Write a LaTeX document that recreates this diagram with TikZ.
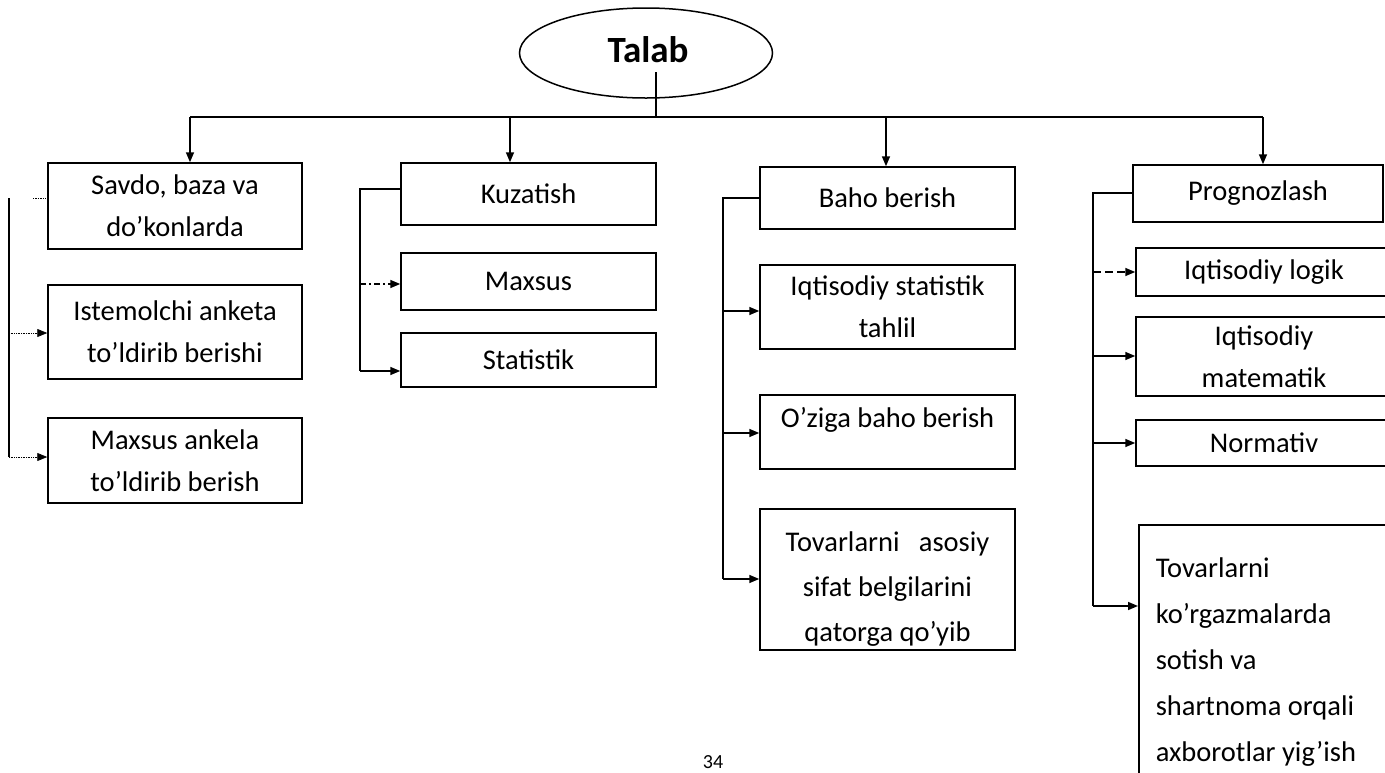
\documentclass[tikz,border=0pt]{standalone}
\usepackage{fontspec}
\setmainfont{Carlito}
\usetikzlibrary{shapes.geometric,arrows.meta}
\begin{document}
\begin{tikzpicture}[x=1pt,y=-1pt,
  box/.style={draw, line width=1.5pt, rectangle, inner sep=0pt, align=center,
              font=\fontsize{28.5}{42}\selectfont},
  txt/.style={inner sep=0pt, align=center, font=\fontsize{28.5}{45}\selectfont},
  link/.style={line width=1.6pt},
  arr/.style={link, -{Triangle[length=10pt,width=8pt]}},
  faint/.style={line width=0.7pt, densely dotted},
  faintarr/.style={faint, -{Triangle[length=10pt,width=8pt]}},
  dashdotline/.style={dash pattern=on 6pt off 3pt on 2pt off 3pt},
  longdash/.style={dash pattern=on 8pt off 4pt},
]
\useasboundingbox (0,0) rectangle (1385,772);

% root
\node[ellipse, draw, line width=1.5pt, minimum width=253pt, minimum height=90pt, inner sep=0pt] (talab) at (646,53) {};
\node[inner sep=0pt, font=\fontsize{37}{40}\selectfont\bfseries] (talabtxt) at (648,50) {Talab};

% column 1
\node[box, minimum width=254pt, minimum height=86pt] (b11) at (175,206) {Savdo, baza va\\do’konlarda};
\node[box, minimum width=254pt, minimum height=94pt] (b12) at (175,332) {Istemolchi anketa\\to’ldirib berishi};
\node[box, minimum width=254pt, minimum height=85pt] (b13) at (175,460.5) {Maxsus ankela\\to’ldirib berish};

% column 2
\node[box, minimum width=255pt, minimum height=62pt] (b21) at (528.5,194) {Kuzatish};
\node[box, minimum width=255pt, minimum height=57pt] (b22) at (528.5,281.5) {Maxsus};
\node[box, minimum width=255pt, minimum height=54pt] (b23) at (528.5,360) {Statistik};

% column 3
\node[box, minimum width=255pt, minimum height=62pt] (b31) at (887.5,198) {Baho berish};
\node[box, minimum width=255pt, minimum height=84pt] (b32) at (887.5,307) {Iqtisodiy statistik\\tahlil};
\node[box, minimum width=255pt, minimum height=74pt] (b33) at (887.5,432) {};
\node[txt] (t33) at (887.5,420) {O’ziga baho berish};
\node[box, minimum width=255pt, minimum height=141pt] (b34) at (887.5,579.5) {};
\node[txt] (t34) at (887.5,589) {Tovarlarni\ \ \ asosiy\\sifat belgilarini\\qatorga qo’yib};

% column 4
\node[box, minimum width=250pt, minimum height=57pt] (b41) at (1258,193.5) {Prognozlash};
\node[box, minimum width=256pt, minimum height=48pt] (b42) at (1264,272) {Iqtisodiy logik};
\node[box, minimum width=256pt, minimum height=79pt] (b43) at (1264,356.5) {Iqtisodiy\\matematik};
\node[box, minimum width=256pt, minimum height=46pt] (b44) at (1264,443) {Normativ};
\node[box, anchor=north west, align=flush left, text width=230pt, inner xsep=17pt, inner ysep=33pt,
      font=\fontsize{28.5}{46}\selectfont] (b45) at (1138,524)
     {Tovarlarni\\ko’rgazmalarda\\sotish va\\shartnoma orqali\\axborotlar yig’ish};

% trunk from the root to the four groups
\coordinate (stem) at (656,72);
\coordinate (hub) at (656,117);
\coordinate (h1) at (190,117);
\coordinate (h2) at (510,117);
\coordinate (h3) at (886,117);
\coordinate (h4) at (1263,117);
\draw[link] (stem) -- (hub);
\draw[link] (h1) -- (h4);
\draw[arr] (h1) -- (h1 |- b11.north);
\draw[arr] (h2) -- (h2 |- b21.north);
\draw[arr] (h3) -- (h3 |- b31.north);
\draw[arr] (h4) -- (h4 |- b41.north);

% column 1 branches
\coordinate (s1t) at (9,198);
\coordinate (s1a) at (9,333);
\coordinate (s1b) at (9,457);
\coordinate (s1s) at (33,198);
\draw[link] (s1t) -- (s1b);
\draw[faint] (b11.west |- s1t) -- (s1s);
\draw[faintarr] (s1a) -- (b12.west |- s1a);
\draw[faintarr] (s1b) -- (b13.west |- s1b);

% column 2 branches
\coordinate (s2t) at (360,189);
\coordinate (s2a) at (360,284);
\coordinate (s2b) at (360,371);
\draw[link] (b21.west |- s2t) -- (s2t) -- (s2b);
\draw[arr, dashdotline] (s2a) -- (b22.west |- s2a);
\draw[arr] (s2b) -- (b23.west |- s2b);

% column 3 branches
\coordinate (s3t) at (723,198);
\coordinate (s3a) at (723,311);
\coordinate (s3b) at (723,433);
\coordinate (s3c) at (723,579);
\draw[link] (b31.west |- s3t) -- (s3t) -- (s3c);
\draw[arr] (s3a) -- (b32.west |- s3a);
\draw[arr] (s3b) -- (b33.west |- s3b);
\draw[arr] (s3c) -- (b34.west |- s3c);

% column 4 branches
\coordinate (s4t) at (1093,193);
\coordinate (s4a) at (1093,272);
\coordinate (s4b) at (1093,356);
\coordinate (s4c) at (1093,443);
\coordinate (s4d) at (1093,606);
\draw[link] (b41.west |- s4t) -- (s4t) -- (s4d);
\draw[arr, longdash] (s4a) -- (b42.west |- s4a);
\draw[arr] (s4b) -- (b43.west |- s4b);
\draw[arr] (s4c) -- (b44.west |- s4c);
\draw[arr] (s4d) -- (b45.west |- s4d);

% page number
\node[font=\fontsize{20}{24}\selectfont] (pagenum) at (713,762) {34};
\end{tikzpicture}
\end{document}
